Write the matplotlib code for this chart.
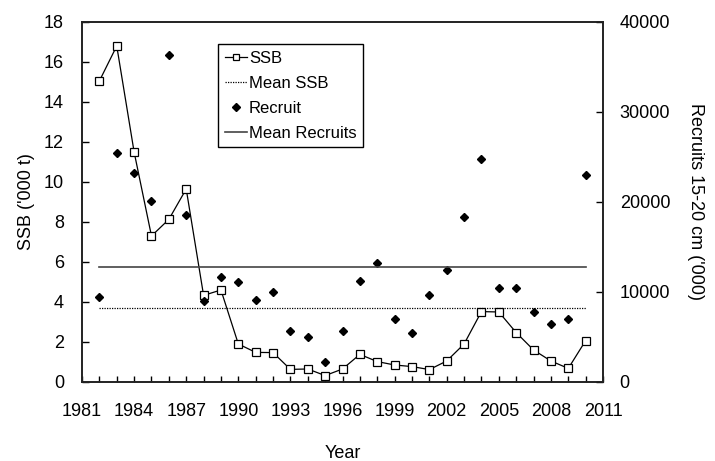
import matplotlib
matplotlib.use("Agg")
import matplotlib.pyplot as plt
import numpy as np

plt.rcParams["font.family"] = ["Liberation Sans", "DejaVu Sans"]

# data
years = list(range(1982, 2011))
ssb = [15.05, 16.8, 11.5, 7.3, 8.13, 9.65, 4.33, 4.6, 1.9, 1.48, 1.47, 0.63, 0.65,
       0.32, 0.65, 1.38, 1.02, 0.85, 0.77, 0.62, 1.05, 1.9, 3.52, 3.5, 2.47, 1.6,
       1.05, 0.68, 2.07]
recruits = [9410, 25400, 23220, 20110, 36330, 18590, 9000, 11630, 11150, 9150, 9960,
            5670, 4960, 2260, 5700, 11220, 13180, 7040, 5440, 9670, 12400, 18300,
            24800, 10400, 10400, 7810, 6440, 7040, 23000]
mean_ssb = np.mean(ssb)
mean_rec = np.mean(recruits)

fig = plt.figure(figsize=(7.15, 4.61), dpi=100)
ax = fig.add_axes([0.1147, 0.1714, 0.7287, 0.7809])
ax2 = ax.twinx()

l1, = ax.plot(years, ssb, color="black", lw=0.9, marker="s", ms=6,
              mfc="white", mec="black", mew=0.9, label="SSB")
l2, = ax.plot([years[0], years[-1]], [mean_ssb, mean_ssb], color="black",
              lw=0.9, ls=(0, (1, 1)), label="Mean SSB")
l3, = ax2.plot(years, recruits, ls="none", marker="D", ms=4.5, color="black",
               label="Recruit")
l4, = ax2.plot([years[0], years[-1]], [mean_rec, mean_rec], color="#444444",
               lw=1.2, label="Mean Recruits")

ax.set_xlim(1981, 2011)
ax.set_ylim(0, 18)
ax2.set_ylim(0, 40000)
ax.set_xticks(range(1981, 2012, 3))
ax.set_xticks(range(1981, 2012), minor=True)
ax.set_yticks(range(0, 19, 2))
ax2.set_yticks(range(0, 40001, 10000))

ax.tick_params(axis="x", which="both", direction="in", length=4, width=1,
               labelsize=13, pad=15)
ax.tick_params(axis="y", direction="in", length=5, width=1, labelsize=13, pad=13)
ax2.tick_params(axis="y", direction="in", length=5, width=1, labelsize=13, pad=12)

for a in (ax, ax2):
    for s in a.spines.values():
        s.set_linewidth(1.2)
        s.set_color("#222222")

ax.set_xlabel("Year", fontsize=13, labelpad=18)
ax.set_ylabel("SSB ('000 t)", fontsize=13, labelpad=6)
ax2.set_ylabel("Recruits 15-20 cm ('000)", fontsize=13, rotation=-90,
               va="bottom", labelpad=12)

leg = ax2.legend([l1, l2, l3, l4], ["SSB", "Mean SSB", "Recruit", "Mean Recruits"],
                 loc="upper left", bbox_to_anchor=(0.261, 0.939), borderaxespad=0,
                 fancybox=False, edgecolor="black", framealpha=1, fontsize=12,
                 handlelength=1.35, handletextpad=0.1, labelspacing=0.6,
                 borderpad=0.4, markerscale=0.8)
leg.get_frame().set_linewidth(1.0)

fig.savefig("out.png", dpi=100)
